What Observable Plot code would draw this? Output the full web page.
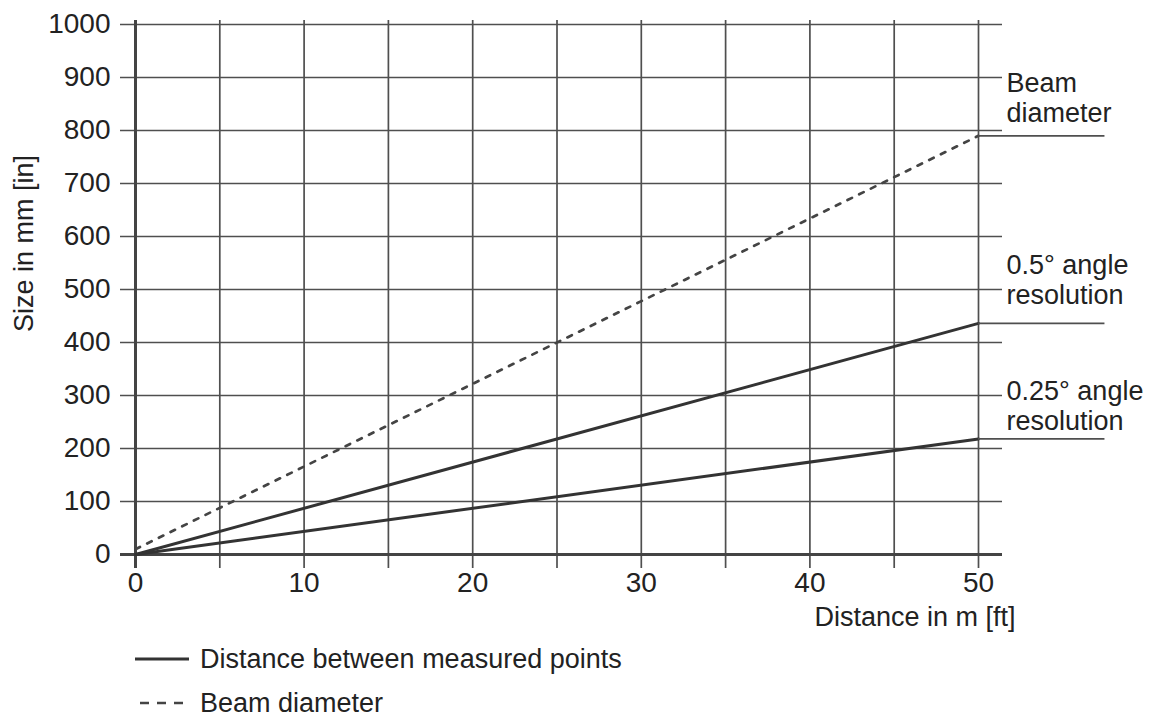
<!DOCTYPE html>
<html><head><meta charset="utf-8">
<script src="https://cdn.jsdelivr.net/npm/d3@7"></script>
<script src="https://cdn.jsdelivr.net/npm/@observablehq/plot@0.6"></script>
<style>
body{margin:0;background:#fff;font-family:"Liberation Sans",Arial,sans-serif;color:#222}
#legend{position:relative;height:88px;width:1159px}
.item{position:absolute;left:135px;display:flex;align-items:center;font-size:27px;height:30px;line-height:30px}
.item svg{margin-right:11px}
</style></head><body>
<div id="chart"></div>
<div id="legend"></div>
<script>
// Data
const distance = [0, 50];            // m
const halfDeg = [0, 436];            // mm, 0.5° angle resolution
const quarterDeg = [0, 218];         // mm, 0.25° angle resolution
const beam = [10, 790];              // mm, beam diameter
const xTicks = [0, 10, 20, 30, 40, 50];
const xGrid = [0, 5, 10, 15, 20, 25, 30, 35, 40, 45, 50];
const yTicks = [0, 100, 200, 300, 400, 500, 600, 700, 800, 900, 1000];
const seriesNames = ["0.5° angle resolution", "0.25° angle resolution", "Beam diameter"];

const solidRows = [];
distance.forEach((d, i) => {
  solidRows.push({x: d, y: halfDeg[i], s: seriesNames[0]});
  solidRows.push({x: d, y: quarterDeg[i], s: seriesNames[1]});
});
const beamRows = distance.map((d, i) => ({x: d, y: beam[i]}));
const last = distance.length - 1;
const ends = [
  {x: distance[last], y: beam[last]},
  {x: distance[last], y: halfDeg[last]},
  {x: distance[last], y: quarterDeg[last]}
];

const ink = "#333";
const grid = "#4f4f4f";
const FS = 27;
const TFS = 28;

const chart = Plot.plot({
  width: 1159, height: 630,
  marginLeft: 135, marginRight: 181, marginTop: 24, marginBottom: 76,
  style: {fontFamily: '"Liberation Sans", Arial, sans-serif', fontSize: FS + "px", color: "#222", background: "#fff", overflow: "visible"},
  x: {domain: [0, 50]},
  y: {domain: [0, 1000]},
  marks: [
    Plot.ruleY(yTicks, {stroke: grid, strokeWidth: 1.7, insetLeft: -15, insetRight: -24}),
    Plot.ruleX(xGrid, {stroke: grid, strokeWidth: 1.7, insetTop: -4, insetBottom: -14}),
    Plot.ruleX([0], {stroke: "#444", strokeWidth: 3, insetTop: -4, insetBottom: -14}),
    Plot.ruleY([0], {stroke: "#444", strokeWidth: 3, insetLeft: -15, insetRight: -24}),
    Plot.axisY(yTicks, {tickSize: 0, tickPadding: 25, label: null, fontSize: TFS, tickFormat: d => String(d)}),
    Plot.axisX(xTicks, {tickSize: 0, tickPadding: 18, label: null, fontSize: TFS, tickFormat: d => String(d)}),
    Plot.line(solidRows, {x: "x", y: "y", z: "s", stroke: ink, strokeWidth: 3}),
    Plot.line(beamRows, {x: "x", y: "y", stroke: "#444", strokeWidth: 2.7, strokeDasharray: "5,8"}),
    Plot.ruleY(ends, {y: "y", x1: 50, x2: 57.5, stroke: grid, strokeWidth: 1.7}),
    Plot.text([ends[0]], {x: "x", y: "y", text: () => "Beam\ndiameter", dx: 28, dy: -38, textAnchor: "start", lineAnchor: "middle", lineHeight: 1.11, fontSize: FS, fill: "#222"}),
    Plot.text([ends[1]], {x: "x", y: "y", text: () => "0.5° angle\nresolution", dx: 28, dy: -44, textAnchor: "start", lineAnchor: "middle", lineHeight: 1.11, fontSize: FS, fill: "#222"}),
    Plot.text([ends[2]], {x: "x", y: "y", text: () => "0.25° angle\nresolution", dx: 28, dy: -34, textAnchor: "start", lineAnchor: "middle", lineHeight: 1.11, fontSize: FS, fill: "#222"}),
    Plot.text(["Size in mm [in]"], {frameAnchor: "left", dx: -111, dy: -46, rotate: -90, textAnchor: "middle", fontSize: FS, fill: "#222"}),
    Plot.text(["Distance in m [ft]"], {frameAnchor: "bottom-right", dx: 37, dy: 71, textAnchor: "end", fontSize: FS, fill: "#222"})
  ]
});
document.getElementById("chart").appendChild(chart);

const legend = document.getElementById("legend");
[
  {label: "Distance between measured points", dash: null, w: 3, top: 14},
  {label: "Beam diameter", dash: "9,8", w: 2.6, top: 58}
].forEach(it => {
  const div = document.createElement("div");
  div.className = "item";
  div.style.top = it.top + "px";
  const ns = "http://www.w3.org/2000/svg";
  const s = document.createElementNS(ns, "svg");
  s.setAttribute("width", 54); s.setAttribute("height", 8);
  const l = document.createElementNS(ns, "line");
  l.setAttribute("x1", it.dash ? 5 : 0); l.setAttribute("x2", 54);
  l.setAttribute("y1", 4); l.setAttribute("y2", 4);
  l.setAttribute("stroke", it.dash ? "#444" : ink);
  l.setAttribute("stroke-width", it.w);
  if (it.dash) l.setAttribute("stroke-dasharray", it.dash);
  s.appendChild(l);
  div.appendChild(s);
  const t = document.createElement("span");
  t.textContent = it.label;
  div.appendChild(t);
  legend.appendChild(div);
});
</script>
</body></html>
